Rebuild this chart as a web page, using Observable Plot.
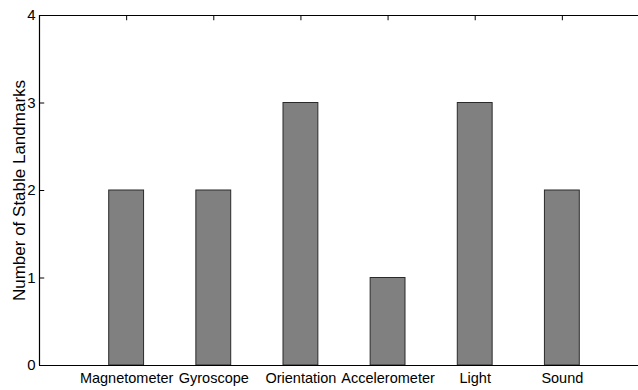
<!DOCTYPE html>
<html>
<head>
<meta charset="utf-8">
<script src="https://cdn.jsdelivr.net/npm/d3@7"></script>
<script src="https://cdn.jsdelivr.net/npm/@observablehq/plot@0.6"></script>
<style>
  body { margin: 0; background: #fff; overflow: hidden; }
  #chart { width: 638px; height: 390px; overflow: hidden; }
</style>
</head>
<body>
<div id="chart"></div>
<script>
// Stable landmarks found per sensor type
const sensors = ["Magnetometer", "Gyroscope", "Orientation", "Accelerometer", "Light", "Sound"];
const landmarks = [2, 2, 3, 1, 3, 2];
const yTicks = [0, 1, 2, 3, 4];
const yLabel = "Number of Stable Landmarks";

const data = sensors.map((sensor, i) => ({ sensor, pos: i + 1, value: landmarks[i] }));

const halfBar = 0.2;   // bar half-width in category units
const tickLen = 0.06;  // inward tick length in data units

const chart = Plot.plot({
  width: 638,
  height: 390,
  marginLeft: 39,
  marginTop: 15,
  marginBottom: 25,
  marginRight: 0,
  x: { type: "linear", domain: [0, 7], range: [39, 649], axis: null },
  y: { domain: [0, 4], range: [365, 15], axis: null },
  style: { fontFamily: "'Liberation Sans', Arial, sans-serif", background: "white", overflow: "hidden" },
  marks: [
    // bottom ticks (hidden under bars)
    Plot.ruleX(data, { x: "pos", y1: 0, y2: tickLen, stroke: "black" }),
    Plot.rectY(data, {
      x1: d => d.pos - halfBar,
      x2: d => d.pos + halfBar,
      y1: 0,
      y2: "value",
      fill: "#808080",
      stroke: "#2a2a2a",
      strokeWidth: 1
    }),
    // axes box
    Plot.ruleY([0, 4], { x1: 0, x2: 7, stroke: "black", strokeWidth: 1.2 }),
    Plot.ruleX([0], { y1: 0, y2: 4, stroke: "black", strokeWidth: 1.2 }),
    // inward ticks
    Plot.ruleY(yTicks, { x1: 0, x2: tickLen, stroke: "black" }),
    Plot.ruleX(data, { x: "pos", y1: 4, y2: 4 - tickLen, stroke: "black" }),
    // tick labels
    Plot.text(yTicks, { x: 0, y: d => d, text: d => String(d), textAnchor: "end", dx: -4, fontSize: 15, fill: "black" }),
    Plot.text(data, { x: "pos", y: 0, text: "sensor", lineAnchor: "top", dy: 7, fontSize: 14.5, fill: "black" }),
    // y axis title
    Plot.text([yLabel], { frameAnchor: "left", textAnchor: "middle", rotate: -90, dx: -20, fontSize: 17, fill: "black" })
  ]
});

document.getElementById("chart").appendChild(chart);
</script>
</body>
</html>
